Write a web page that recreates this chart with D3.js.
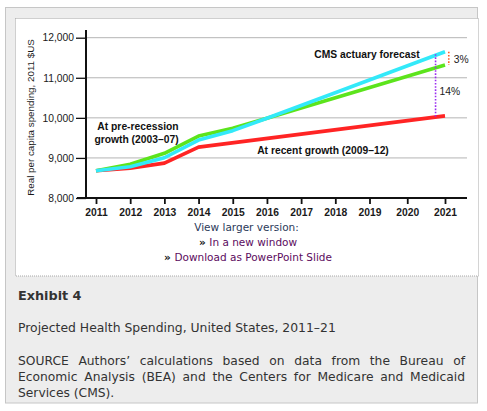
<!DOCTYPE html>
<html>
<head>
<meta charset="utf-8">
<script src="https://cdn.jsdelivr.net/npm/d3@7"></script>
<style>
  body { margin: 0; background: #fff; }
  svg { display: block; }
</style>
</head>
<body>
<svg id="chart" width="487" height="411"></svg>
<script>
const tickYears = [2011, 2012, 2013, 2014, 2015, 2016, 2017, 2018, 2019, 2020, 2021];
const yTicks = [8000, 9000, 10000, 11000, 12000];

const recentYears = [2011, 2012, 2013, 2014, 2021];
const recentValues = [8680, 8745, 8870, 9270, 10050];

const preYears = [2011, 2012, 2013, 2014, 2015, 2016, 2021];
const preValues = [8680, 8840, 9115, 9545, 9740, 9990, 11320];

const cmsYears = [2011, 2012, 2013, 2014, 2015, 2016, 2021];
const cmsValues = [8680, 8780, 9005, 9445, 9680, 9990, 11650];

// gap markers at the end of the projection
const gapLabels = ["14%", "3%"];
const gapYears = [2020.75, 2021.1];
const gapTop = [11590, 11650];
const gapBottom = [10010, 11320];

const sourceLines = [
    "SOURCE Authors\u2019 calculations based on data from the Bureau of",
    "Economic Analysis (BEA) and the Centers for Medicare and Medicaid",
    "Services (CMS)."
];

const svg = d3.select("#chart");
const narrow = "'Liberation Sans Narrow', 'Arial Narrow', 'Liberation Sans', sans-serif";
const page = "'DejaVu Sans', 'Lucida Grande', Verdana, sans-serif";

// outer grey box and white figure panel
svg.append("rect")
    .attr("x", 5.5).attr("y", 7.5).attr("width", 472).attr("height", 395.5)
    .attr("fill", "#ededed").attr("stroke", "#c6c6c6");
svg.append("rect")
    .attr("x", 15.5).attr("y", 18.5).attr("width", 463).attr("height", 257.5)
    .attr("fill", "#fff").attr("stroke", "#a8a8a8").attr("stroke-dasharray", "1,1");

// the year spacing in the exhibit widens after 2019
const x = d3.scaleLinear().domain([2011, 2019, 2021]).range([96, 369.5, 445]);
const y = d3.scaleLinear().domain([8000, 12000]).range([198, 37.7]);
const axisLeftX = 86, axisRightX = 467;

const plot = svg.append("g");

// gridlines
plot.append("g")
    .selectAll("line")
    .data(yTicks.slice(1))
    .join("line")
    .attr("x1", axisLeftX).attr("x2", axisRightX)
    .attr("y1", d => y(d)).attr("y2", d => y(d))
    .attr("stroke", "#b4b4b4").attr("stroke-width", 1);

// y axis
const yAxis = plot.append("g")
    .attr("transform", `translate(${axisLeftX},0)`)
    .call(d3.axisLeft(y).tickValues(yTicks).tickSize(10).tickPadding(2).tickFormat(d3.format(",")));
yAxis.select(".domain").remove();
yAxis.selectAll(".tick line").attr("stroke", "#111").attr("stroke-width", 1.3);
yAxis.selectAll(".tick text")
    .attr("font-family", "'Liberation Sans', Arial, sans-serif")
    .attr("font-size", 10.3).attr("fill", "#1a1a1a");

// x axis
const xAxis = plot.append("g")
    .attr("transform", `translate(0,${y(8000)})`)
    .call(d3.axisBottom(x).tickValues(tickYears).tickSize(6).tickPadding(5).tickFormat(d3.format("d")));
xAxis.select(".domain").remove();
xAxis.selectAll(".tick line").attr("stroke", "#111").attr("stroke-width", 1.8);
xAxis.selectAll(".tick text")
    .attr("font-family", narrow).attr("font-weight", "bold")
    .attr("font-size", 10.3).attr("fill", "#1a1a1a");

// axis lines
plot.append("line")
    .attr("x1", axisLeftX).attr("x2", axisLeftX)
    .attr("y1", 30).attr("y2", y(8000) + 1)
    .attr("stroke", "#111").attr("stroke-width", 2);
plot.append("line")
    .attr("x1", 77).attr("x2", axisRightX)
    .attr("y1", y(8000)).attr("y2", y(8000))
    .attr("stroke", "#111").attr("stroke-width", 1.8);

// y axis title
svg.append("text")
    .attr("transform", `translate(34,${117.5}) rotate(-90)`)
    .attr("text-anchor", "middle")
    .attr("font-family", "'Liberation Sans', Arial, sans-serif")
    .attr("font-size", 9.8).attr("fill", "#1a1a1a")
    .text("Real per capita spending, 2011 $US");

// series
const series = [
    { years: recentYears, values: recentValues, color: "#ff2424" },
    { years: preYears, values: preValues, color: "#5ce41c" },
    { years: cmsYears, values: cmsValues, color: "#33e9f9" }
];
const line = d3.line().x(d => x(d[0])).y(d => y(d[1]));
plot.append("g")
    .selectAll("path")
    .data(series)
    .join("path")
    .attr("d", s => line(d3.zip(s.years, s.values)))
    .attr("fill", "none")
    .attr("stroke", s => s.color)
    .attr("stroke-width", 3.6)
    .attr("stroke-linejoin", "round");

// gap markers
const gapColors = ["#9a2cf0", "#ff5a26"];
plot.append("g")
    .selectAll("line")
    .data(gapLabels)
    .join("line")
    .attr("x1", (d, i) => x(gapYears[i])).attr("x2", (d, i) => x(gapYears[i]))
    .attr("y1", (d, i) => y(gapTop[i])).attr("y2", (d, i) => y(gapBottom[i]))
    .attr("stroke", (d, i) => gapColors[i])
    .attr("stroke-width", 1.6)
    .attr("stroke-dasharray", "1.6,1.6");
plot.append("text")
    .attr("x", x(gapYears[0]) + 4).attr("y", 95)
    .attr("font-family", narrow).attr("font-size", 10.3).attr("fill", "#222")
    .text(gapLabels[0]);
plot.append("text")
    .attr("x", x(gapYears[1]) + 5).attr("y", 62.5)
    .attr("font-family", narrow).attr("font-size", 10.3).attr("fill", "#222")
    .text(gapLabels[1]);

// series labels
const labels = plot.append("g")
    .attr("font-family", narrow).attr("font-weight", "bold")
    .attr("font-size", 10.3).attr("fill", "#111").attr("text-anchor", "middle");
labels.append("text").attr("x", 367).attr("y", 57.5).text("CMS actuary forecast");
labels.append("text").attr("x", 138).attr("y", 129.5).text("At pre-recession");
labels.append("text").attr("x", 136.5).attr("y", 143).text("growth (2003\u201307)");
labels.append("text").attr("x", 323).attr("y", 153.5).text("At recent growth (2009\u201312)");

// links under the figure
const links = svg.append("g")
    .attr("font-family", page).attr("font-size", 10.5).attr("text-anchor", "middle");
links.append("text").attr("x", 246.5).attr("y", 231)
    .attr("fill", "#2c3a5a").text("View larger version:");
const linkText = ["In a new window", "Download as PowerPoint Slide"];
links.selectAll(".link")
    .data(linkText)
    .join("text")
    .attr("class", "link")
    .attr("x", 248).attr("y", (d, i) => 245.5 + i * 15)
    .call(t => t.append("tspan").attr("fill", "#111").attr("font-weight", "bold")
        .attr("font-size", 10.5).text("\u00bb "))
    .call(t => t.append("tspan").attr("fill", "#5c0b5e").text(d => d));

// caption
const caption = svg.append("g").attr("font-family", page).attr("fill", "#333");
caption.append("text").attr("x", 18).attr("y", 300)
    .attr("font-weight", "bold").attr("font-size", 12.8).text("Exhibit 4");
caption.append("text").attr("x", 18).attr("y", 332)
    .attr("font-size", 12.4).text("Projected Health Spending, United States, 2011\u201321");

const sourceWidth = 447;
caption.selectAll(".src")
    .data(sourceLines)
    .join("text")
    .attr("class", "src")
    .attr("x", 18).attr("y", (d, i) => 365 + i * 16)
    .attr("font-size", 12.3)
    .text(d => d)
    .each(function (d, i) {
        // justify all but the last line
        if (i === sourceLines.length - 1) return;
        const gaps = d.split(" ").length - 1;
        const extra = (sourceWidth - this.getComputedTextLength()) / gaps;
        d3.select(this).attr("word-spacing", extra);
    });
</script>
</body>
</html>
